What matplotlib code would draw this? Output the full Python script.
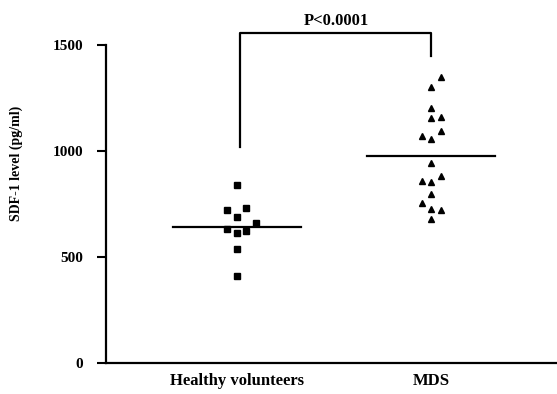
import numpy as np
import matplotlib
matplotlib.use("Agg")
import matplotlib.pyplot as plt

plt.rcParams['font.family'] = ['Liberation Serif', 'DejaVu Serif']
plt.rcParams['font.weight'] = 'bold'

# ---------- Data ----------
groups = ["Healthy volunteers", "MDS"]

healthy = [840, 722, 730, 690, 659, 632, 615, 623, 536, 410]
healthy_col = [0, -1, 1, 0, 2, -1, 0, 1, 0, 0]   # dot column in the scatter

mds = [1348, 1300, 1201, 1154, 1162, 1094, 1071, 1055, 942,
       860, 855, 882, 797, 756, 725, 722, 679]
mds_col = [1, 0, 0, 0, 1, 1, -1, 0, 0, -1, 0, 1, 0, -1, 0, 1, 0]

group_means = [643, 978]
p_text = "P<0.0001"
yticks = [0, 500, 1000, 1500]

# ---------- Plotting ----------
fig = plt.figure(figsize=(5.57, 3.94), dpi=100)
ax = fig.add_axes([0.1903, 0.0787, 0.8097, 0.807])

step = 0.049
ax.plot(1 + step * np.array(healthy_col), healthy, 's', color='black',
        markersize=4.6, clip_on=False)
ax.plot(2 + step * np.array(mds_col), mds, '^', color='black',
        markersize=5.0, clip_on=False)

for i, m in enumerate(group_means):
    ax.plot([i + 1 - 0.33, i + 1 + 0.33], [m, m], color='black', lw=1.6)

# significance bracket
ax.plot([1.015, 1.015, 2.0, 2.0], [1020, 1557, 1557, 1448],
        color='black', lw=1.6, clip_on=False)
ax.text(1.51, 1578, p_text, ha='center', va='bottom', fontsize=12,
        fontweight='bold')

ax.set_xlim(0.325, 2.649)
ax.set_ylim(0, 1500)
ax.set_yticks(yticks)
ax.set_yticklabels([str(t) for t in yticks], fontsize=11, fontweight='bold')
ax.set_xticks([1, 2])
ax.set_xticklabels(groups, fontsize=12, fontweight='bold')
ax.tick_params(axis='x', length=0, pad=7)
ax.tick_params(axis='y', length=6.5, width=1.5, pad=10)
ax.set_ylabel("SDF-1 level (pg/ml)", fontsize=10, fontweight='bold')
ax.yaxis.set_label_coords(-0.184, 0.629)

for s in ['top', 'right']:
    ax.spines[s].set_visible(False)
for s in ['left', 'bottom']:
    ax.spines[s].set_linewidth(1.6)

fig.savefig("out.png", dpi=100)
